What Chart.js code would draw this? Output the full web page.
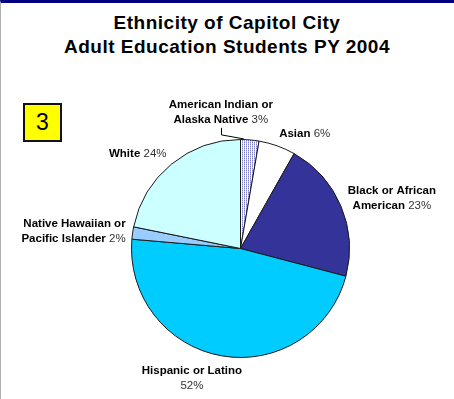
<!DOCTYPE html>
<html lang="en">
<head>
<meta charset="UTF-8">
<title>Ethnicity of Capitol City Adult Education Students PY 2004</title>
<script src="https://cdn.jsdelivr.net/npm/chart.js"></script>
<style>
    html, body { margin: 0; padding: 0; background: #fff; }
    .frame {
        position: relative;
        width: 454px;
        height: 399px;
        box-sizing: border-box;
        border-top: 3px solid #000080;
        border-left: 1px solid #b0b0b0;
        overflow: hidden;
    }
    .frame canvas { position: absolute; left: -1px; top: -3px; }
    .title {
        position: absolute;
        left: -1px;
        top: 8px;
        width: 454px;
        text-align: center;
        font: bold 19px Arial, "Liberation Sans", sans-serif;
        letter-spacing: 0.5px;
        line-height: 24px;
        color: #000;
    }
    .slide-no {
        position: absolute;
        left: 22px;
        top: 100px;
        width: 39px;
        height: 39px;
        box-sizing: border-box;
        border: 2px solid #111;
        background: #ffff00;
        font: 23px Arial, "Liberation Sans", sans-serif;
        line-height: 35px;
        text-align: center;
        color: #000;
    }
</style>
</head>
<body>
<div class="frame">
    <div class="title">Ethnicity of Capitol City<br>Adult Education Students PY 2004</div>
    <div class="slide-no">3</div>
    <canvas id="pie" width="454" height="399"></canvas>
</div>

<script>
// slices, clockwise from 12 o'clock
const groups = [
    ['American Indian or', 'Alaska Native'],
    ['Asian'],
    ['Black or African', 'American'],
    ['Hispanic or Latino'],
    ['Native Hawaiian or', 'Pacific Islander'],
    ['White']
];
const shares = [3, 6, 23, 52, 2, 24];

// label placement relative to the middle of each slice's rim
const labelSpots = [
    { dx: -29, dy: -35, align: 'center', leader: true },
    { dx: 2, dy: -12, align: 'left' },
    { dx: 51, dy: -15, align: 'center' },
    { dx: -30, dy: 15, align: 'center', pctOwnLine: true },
    { dx: -7, dy: -9, align: 'right' },
    { dx: -5, dy: -10, align: 'right' }
];

function dotFill() {
    const c = document.createElement('canvas');
    c.width = 2; c.height = 2;
    const g = c.getContext('2d');
    g.fillStyle = '#ffffff';
    g.fillRect(0, 0, 2, 2);
    g.fillStyle = '#8484c4';
    g.fillRect(0, 0, 1, 1);
    g.fillStyle = '#bcbcde';
    g.fillRect(0, 1, 1, 1);
    return g.createPattern(c, 'repeat');
}

const fills = [dotFill(), '#ffffff', '#333399', '#00ccff', '#99ccff', '#ccffff'];

const FAMILY = 'Arial, "Liberation Sans", sans-serif';
const BOLD = 'bold 11.5px ' + FAMILY;
const PLAIN = '11.5px ' + FAMILY;
const LINE_H = 15;

const sliceLabels = {
    id: 'sliceLabels',
    afterDatasetsDraw(chart) {
        const ctx = chart.ctx;
        const arcs = chart.getDatasetMeta(0).data;
        ctx.save();
        ctx.textBaseline = 'middle';
        arcs.forEach((arc, i) => {
            const { x, y, startAngle, endAngle, outerRadius } = arc.getProps(['x', 'y', 'startAngle', 'endAngle', 'outerRadius'], true);
            const mid = (startAngle + endAngle) / 2;
            const rimX = x + Math.cos(mid) * outerRadius;
            const rimY = y + Math.sin(mid) * outerRadius;
            const spot = labelSpots[i];
            const ax = rimX + spot.dx;
            const ay = rimY + spot.dy;
            const pct = shares[i] + '%';

            // build lines as [bold part, plain part]
            const lines = groups[i].map(t => [t, '']);
            if (spot.pctOwnLine) {
                lines.push(['', pct]);
            } else {
                lines[lines.length - 1][1] = ' ' + pct;
            }

            lines.forEach((ln, k) => {
                ctx.font = BOLD;
                const wb = ctx.measureText(ln[0]).width;
                ctx.font = PLAIN;
                const wp = ctx.measureText(ln[1]).width;
                const w = wb + wp;
                let left = ax;
                if (spot.align === 'center') left = ax - w / 2;
                if (spot.align === 'right') left = ax - w;
                const ly = ay + k * LINE_H;
                ctx.textAlign = 'left';
                ctx.font = BOLD;
                ctx.fillStyle = '#000';
                ctx.fillText(ln[0], left, ly);
                ctx.font = PLAIN;
                ctx.fillStyle = '#333';
                ctx.fillText(ln[1], left + wb, ly);
            });

            if (spot.leader) {
                const lx = Math.round(ax) + 0.5;
                const top = ay + (lines.length - 1) * LINE_H + 8;
                ctx.strokeStyle = '#000';
                ctx.lineWidth = 1;
                ctx.beginPath();
                ctx.moveTo(lx, top);
                ctx.lineTo(lx, top + 7);
                ctx.lineTo(rimX - 6, rimY - 1);
                ctx.stroke();
            }
        });
        ctx.restore();
    }
};

new Chart(document.getElementById('pie'), {
    type: 'pie',
    data: {
        labels: groups.map(g => g.join(' ')),
        datasets: [{
            data: shares,
            backgroundColor: fills,
            borderColor: '#1a1a1a',
            borderWidth: 1
        }]
    },
    options: {
        responsive: false,
        animation: false,
        layout: {
            padding: { left: 131, right: 104, top: 139, bottom: 41 }
        },
        plugins: {
            legend: { display: false },
            tooltip: { enabled: false }
        }
    },
    plugins: [sliceLabels]
});
</script>
</body>
</html>
